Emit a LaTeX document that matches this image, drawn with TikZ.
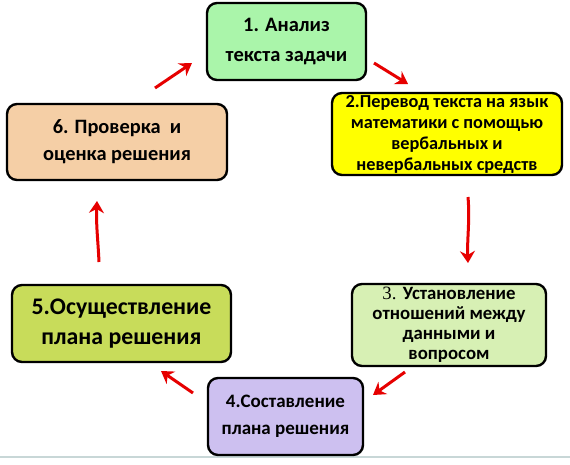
\documentclass[tikz,border=0pt]{standalone}
\usepackage{fontspec}
\setmainfont{Carlito}
\newfontfamily\serifnum{Liberation Serif}
\usetikzlibrary{arrows.meta}
\definecolor{cA}{RGB}{170,245,170}
\definecolor{cB}{RGB}{255,255,0}
\definecolor{cC}{RGB}{215,240,180}
\definecolor{cD}{RGB}{205,192,240}
\definecolor{cE}{RGB}{200,220,90}
\definecolor{cF}{RGB}{245,207,166}
\definecolor{redarrow}{RGB}{230,0,0}
\tikzset{
  stepbox/.style={draw=black, line width=2.4pt, rounded corners=10pt, align=center, inner sep=0pt, font=\bfseries},
  redarr/.style={draw=redarrow, line width=3pt, -{Stealth[length=12pt,width=15pt,inset=4pt]}}
}
\begin{document}
\begin{tikzpicture}[x=1pt,y=-1pt]
\useasboundingbox (0,0) rectangle (570,464);
\fill[white] (0,0) rectangle (570,464);
\draw[line width=1.5pt, draw={rgb,255:red,200;green,215;blue,215}] (0,457) -- (570,457);
\node[stepbox, fill=cA, minimum width=159pt, minimum height=77pt, font=\bfseries\fontsize{20.5}{30}\selectfont] (n1) at (286.5,41.5) {1. Анализ\\текста задачи};
\node[stepbox, fill=cB, minimum width=230pt, minimum height=82pt, font=\bfseries\fontsize{18.3}{21}\selectfont] (n2) at (447,134) {2.Перевод текста на язык\\математики с помощью\\вербальных и\\невербальных средств};
\node[stepbox, fill=cC, minimum width=194pt, minimum height=82pt, font=\bfseries\fontsize{18.8}{20}\selectfont] (n3) at (449,325) {{\mdseries\serifnum 3. }Установление\\отношений между\\данными и\\вопросом};
\node[stepbox, fill=cD, minimum width=155pt, minimum height=77pt, font=\bfseries\fontsize{19}{27}\selectfont] (n4) at (285.5,416.5) {4.Составление\\плана решения};
\node[stepbox, fill=cE, minimum width=219pt, minimum height=77pt, font=\bfseries\fontsize{23.8}{30}\selectfont] (n5) at (121.5,323.5) {5.Осуществление\\плана решения};
\node[stepbox, fill=cF, minimum width=220pt, minimum height=76pt, font=\bfseries\fontsize{20.4}{27}\selectfont] (n6) at (117,142) {6. Проверка\ \ и\\оценка решения};
\coordinate (a1s) at (155,88); \coordinate (a1e) at (192,63);
\coordinate (a2s) at (374,63); \coordinate (a2e) at (408,84);
\coordinate (a3s) at (468,197); \coordinate (a3e) at (468,263);
\coordinate (a4s) at (405,372); \coordinate (a4e) at (373,395);
\coordinate (a5s) at (193,393); \coordinate (a5e) at (161,371);
\coordinate (a6s) at (99,262); \coordinate (a6e) at (97,201);
\draw[redarr] (a1s) -- (a1e);
\draw[redarr] (a2s) -- (a2e);
\draw[redarr] (a3s) .. controls (470,220) and (467,240) .. (a3e);
\draw[redarr] (a4s) -- (a4e);
\draw[redarr] (a5s) -- (a5e);
\draw[redarr] (a6s) .. controls (98,240) and (96,225) .. (a6e);
\end{tikzpicture}
\end{document}
